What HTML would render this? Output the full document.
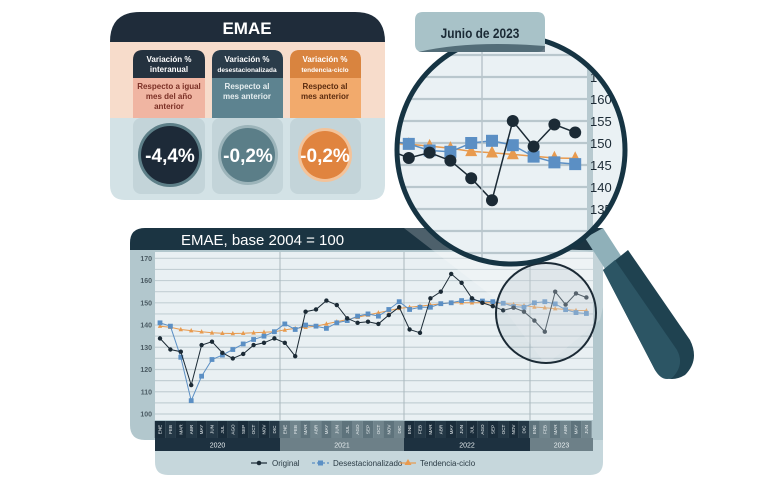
<!DOCTYPE html>
<html><head><meta charset="utf-8">
<style>
html,body{margin:0;padding:0;background:#fff;width:780px;height:480px;overflow:hidden}
svg{display:block;font-family:"Liberation Sans",sans-serif}
</style></head>
<body>
<svg id="s" width="780" height="480" viewBox="0 0 780 480" xmlns="http://www.w3.org/2000/svg">
<defs>
<clipPath id="mc"><circle cx="511" cy="150" r="112"/></clipPath>
</defs>
<!-- EMAE card -->
<path d="M110 42 Q110 12 140 12 L355 12 Q385 12 385 42 L385 185 Q385 200 370 200 L125 200 Q110 200 110 185 Z" fill="#d3e2e6"/>
<path d="M110 42 Q110 12 140 12 L355 12 Q385 12 385 42 Z" fill="#1f2c3a"/>
<rect x="110" y="42" width="275" height="76" fill="#f7dccb"/>
<text x="247" y="34" fill="#fff" font-size="17" font-weight="bold" text-anchor="middle">EMAE</text>
<!-- cols -->
<g>
<rect x="133" y="118" width="72" height="76" rx="8" fill="#c3d4d9"/>
<rect x="212" y="118" width="71" height="76" rx="8" fill="#c3d4d9"/>
<rect x="290" y="118" width="71" height="76" rx="8" fill="#c3d4d9"/>
<path d="M133 118 L133 60 Q133 50 143 50 L195 50 Q205 50 205 60 L205 118 Z" fill="#f0b5a2"/>
<path d="M133 78 L133 60 Q133 50 143 50 L195 50 Q205 50 205 60 L205 78 Z" fill="#24323f"/>
<path d="M212 118 L212 60 Q212 50 222 50 L273 50 Q283 50 283 60 L283 118 Z" fill="#5d8390"/>
<path d="M212 78 L212 60 Q212 50 222 50 L273 50 Q283 50 283 60 L283 78 Z" fill="#2a3c4a"/>
<path d="M290 118 L290 60 Q290 50 300 50 L351 50 Q361 50 361 60 L361 118 Z" fill="#f2aa6c"/>
<path d="M290 78 L290 60 Q290 50 300 50 L351 50 Q361 50 361 60 L361 78 Z" fill="#d9843f"/>
<g fill="#fff" font-size="8" font-weight="bold" text-anchor="middle">
<text x="169" y="62">Variación %</text><text x="169" y="72">interanual</text>
<text x="247" y="62">Variación %</text><text x="247" y="72" font-size="6.5">desestacionalizada</text>
<text x="325" y="62">Variación %</text><text x="325" y="72" font-size="6.5">tendencia-ciclo</text>
</g>
<g font-size="8" font-weight="bold" text-anchor="middle">
<g fill="#7a2f25"><text x="169" y="89">Respecto a igual</text><text x="169" y="99">mes del año</text><text x="169" y="109">anterior</text></g>
<g fill="#e6eef0"><text x="247" y="89">Respecto al</text><text x="247" y="99">mes anterior</text></g>
<g fill="#5b2c10"><text x="325" y="89">Respecto al</text><text x="325" y="99">mes anterior</text></g>
</g>
<circle cx="170" cy="155" r="32" fill="#5d7f88"/>
<circle cx="170" cy="155" r="29" fill="#1d2a38"/>
<circle cx="248" cy="155" r="30" fill="#9cb4ba"/>
<circle cx="248" cy="155" r="27" fill="#5b7e88"/>
<circle cx="325" cy="155" r="27" fill="#f3c39a"/>
<circle cx="325" cy="155" r="24" fill="#e0843f"/>
<g fill="#fff" font-weight="bold" font-size="19" text-anchor="middle">
<text x="170" y="162">-4,4%</text><text x="248" y="162">-0,2%</text><text x="325" y="162">-0,2%</text>
</g>
</g>
<!-- chart card -->
<path d="M155 440 L603 440 L603 462 Q603 475 590 475 L168 475 Q155 475 155 462 Z" fill="#c6d7dc"/>
<path d="M145 228 L603 228 L603 440 L145 440 Q130 440 130 425 L130 243 Q130 228 145 228 Z" fill="#b2c7cd"/>
<path d="M145 228 L603 228 L603 250 L130 250 L130 243 Q130 228 145 228 Z" fill="#1b3442"/>
<text x="181" y="245" fill="#fff" font-size="15">EMAE, base 2004 = 100</text>
<rect x="155" y="252" width="438" height="168" fill="#e9f0f3"/>
<g id="main"></g>
<!-- legend -->
<g font-size="8" fill="#2a3a44">
<line x1="251" y1="463" x2="267" y2="463" stroke="#1b2a35" stroke-width="1.2"/><circle cx="259" cy="463" r="2.3" fill="#1b2a35"/>
<text x="272" y="466">Original</text>
<line x1="312" y1="463" x2="329" y2="463" stroke="#5b8fc4" stroke-width="1.2" stroke-dasharray="3,2"/><rect x="318" y="460.5" width="5" height="5" fill="#5b8fc4"/>
<text x="333" y="466">Desestacionalizado</text>
<line x1="400" y1="463" x2="416" y2="463" stroke="#e89a4e" stroke-width="1.2"/><path d="M408 459 L411.5 465 L404.5 465 Z" fill="#e89a4e"/>
<text x="420" y="466">Tendencia-ciclo</text>
</g>
<!-- small circle and beam -->
<path d="M400 225 L497 300 L546 365 L600 320 L615 255 Z" fill="#ffffff" opacity="0.22"/>
<circle cx="546" cy="313" r="50" fill="#8aa3ad" fill-opacity="0.15" stroke="#1b2a35" stroke-width="2"/>
<!-- handle -->
<path d="M585 238 L603 228 L625 262 L607 272 Z" fill="#8fb0b9"/>
<path d="M603 270 L628 250 L690 340 Q700 360 685 375 Q668 385 655 370 Z" fill="#1f4250"/>
<path d="M603 270 L615 260 L677 350 Q685 365 672 378 Q662 382 655 370 Z" fill="#2c5564"/>
<!-- magnifier -->
<g clip-path="url(#mc)">
<rect x="395" y="35" width="235" height="235" fill="#eaf1f4"/>
<rect x="587" y="35" width="6" height="235" fill="#b7c9cf"/>
<g id="mag"></g>
<line x1="482" y1="35" x2="482" y2="270" stroke="#b9c6cc" stroke-width="1.5"/>
</g>
<circle cx="511" cy="150" r="114" fill="none" stroke="#163443" stroke-width="5"/>
<!-- tab -->
<path d="M423 12 L537 12 Q545 12 545 20 L545 44 Q545 52 537 52 L423 52 Q415 52 415 44 L415 20 Q415 12 423 12 Z" fill="#a8c2c8"/>
<path d="M418 52 Q470 40 545 46 L545 52 Z" fill="#1b3442" opacity="0.6"/>
<text x="480" y="38" fill="#1b2a35" font-size="14" font-weight="bold" text-anchor="middle" transform="translate(480 0) scale(0.85 1) translate(-480 0)">Junio de 2023</text>
</svg>
<script>
var ns="http://www.w3.org/2000/svg";
function el(p,t,a,txt){var e=document.createElementNS(ns,t);for(var k in a)e.setAttribute(k,a[k]);if(txt!=null)e.textContent=txt;p.appendChild(e);return e;}
var orig=[134,129,128,113,131,132.5,127.5,125,127,131,132,134,
132,126,146,147,151,149,143,141,141.5,140.5,144.5,148,
138,136.5,152,155,163,159,152,150,148.5,146.6,147.8,146,
142,137,155,149.2,154.2,152.4];
var des=[141,139.5,125.5,106,117,124.5,126.5,129,131.5,133.5,135,137,
140.5,138,140,139.5,138.5,141,142,144,145,144,147,150.5,
147,148,148,149.6,150,151,151.3,150.8,150.5,149.8,148.3,148,
150,150.5,149.5,146.9,145.6,145.2];
var tr=[139.5,139,138,137.5,137,136.5,136.3,136.2,136.3,136.5,136.8,137,
137.8,138.5,139,139.5,140.5,141.5,142.5,143.5,144.5,145.5,146.5,147.5,
148,148.5,149,149.5,150,150,150,150,150,149.7,149.3,148.8,
148.1,147.8,147.4,147,146.6,146.5];
var g=document.getElementById('main');
function X(i){return 160+i*10.4} function Y(v){return 414-(v-100)*2.224}
for(var v=100;v<=170;v+=5){el(g,'line',{x1:155,x2:593,y1:Y(v),y2:Y(v),stroke:'#c3cfd4','stroke-width':1.2});}
for(var v=100;v<=170;v+=10){el(g,'text',{x:152,y:Y(v)+2.5,'font-size':7,'font-weight':'bold',fill:'#4c5c64','text-anchor':'end'},v);}
[280,404,530].forEach(function(x){el(g,'line',{x1:x,x2:x,y1:252,y2:420,stroke:'#aab8be','stroke-width':1});});
var mn=['ENE','FEB','MAR','ABR','MAY','JUN','JUL','AGO','SEP','OCT','NOV','DIC'];
for(var i=0;i<42;i++){var yr=Math.floor(i/12);var light=(yr%2==1);
 var c=light?(i%2?'#70848c':'#5e737c'):(i%2?'#243846':'#1a2d3b');
 el(g,'rect',{x:X(i)-5.2,y:421,width:10.4,height:17,fill:c});
 var t=el(g,'text',{x:0,y:0,'font-size':4.6,fill:'#e8eef0','text-anchor':'middle',transform:'translate('+(X(i)+1.6)+' 429.5) rotate(-90)'},mn[i%12]);}
var yrs=[['2020',155,280,'#1d3140'],['2021',280,404,'#6d8088'],['2022',404,530,'#1d3140'],['2023',530,593,'#6d8088']];
yrs.forEach(function(a){el(g,'rect',{x:a[1],y:438,width:a[2]-a[1],height:13,fill:a[3]});el(g,'text',{x:(a[1]+a[2])/2,y:447.5,'font-size':7,fill:'#e8eef0','text-anchor':'middle'},a[0]);});
function series(g,X,Y,arr,i0,col,kind,sz,w){var p=[];for(var i=i0;i<arr.length;i++)p.push(X(i).toFixed(1)+','+Y(arr[i]).toFixed(1));
 el(g,'polyline',{points:p.join(' '),fill:'none',stroke:col,'stroke-width':w});
 for(var i=i0;i<arr.length;i++){var x=X(i),y=Y(arr[i]);
  if(kind=='c')el(g,'circle',{cx:x,cy:y,r:sz,fill:col});
  else if(kind=='s')el(g,'rect',{x:x-sz,y:y-sz,width:2*sz,height:2*sz,fill:col});
  else el(g,'path',{d:'M'+x+' '+(y-sz*1.2)+' L'+(x+sz)+' '+(y+sz*0.8)+' L'+(x-sz)+' '+(y+sz*0.8)+' Z',fill:col});}}
series(g,X,Y,tr,0,'#e89a4e','t',2.2,1);
series(g,X,Y,des,0,'#5b8fc4','s',2.4,1);
series(g,X,Y,orig,0,'#1b2a35','c',2.2,1);
var m=document.getElementById('mag');
function MX(i){return 492+(i-37)*20.8} function MY(v){return 143-(v-150)*4.4}
for(var v=125;v<=170;v+=5){el(m,'line',{x1:395,x2:587,y1:MY(v),y2:MY(v),stroke:'#b9c7cd','stroke-width':2.2});}
for(var v=135;v<=165;v+=5){el(m,'text',{x:590,y:MY(v)+5,'font-size':13,fill:'#1b2a35'},v);}
series(m,MX,MY,tr,32,'#e89a4e','t',6,1.5);
series(m,MX,MY,des,32,'#5b8fc4','s',6,1.5);
series(m,MX,MY,orig,32,'#1b2a35','c',6,1.5);
</script>
</body></html>
